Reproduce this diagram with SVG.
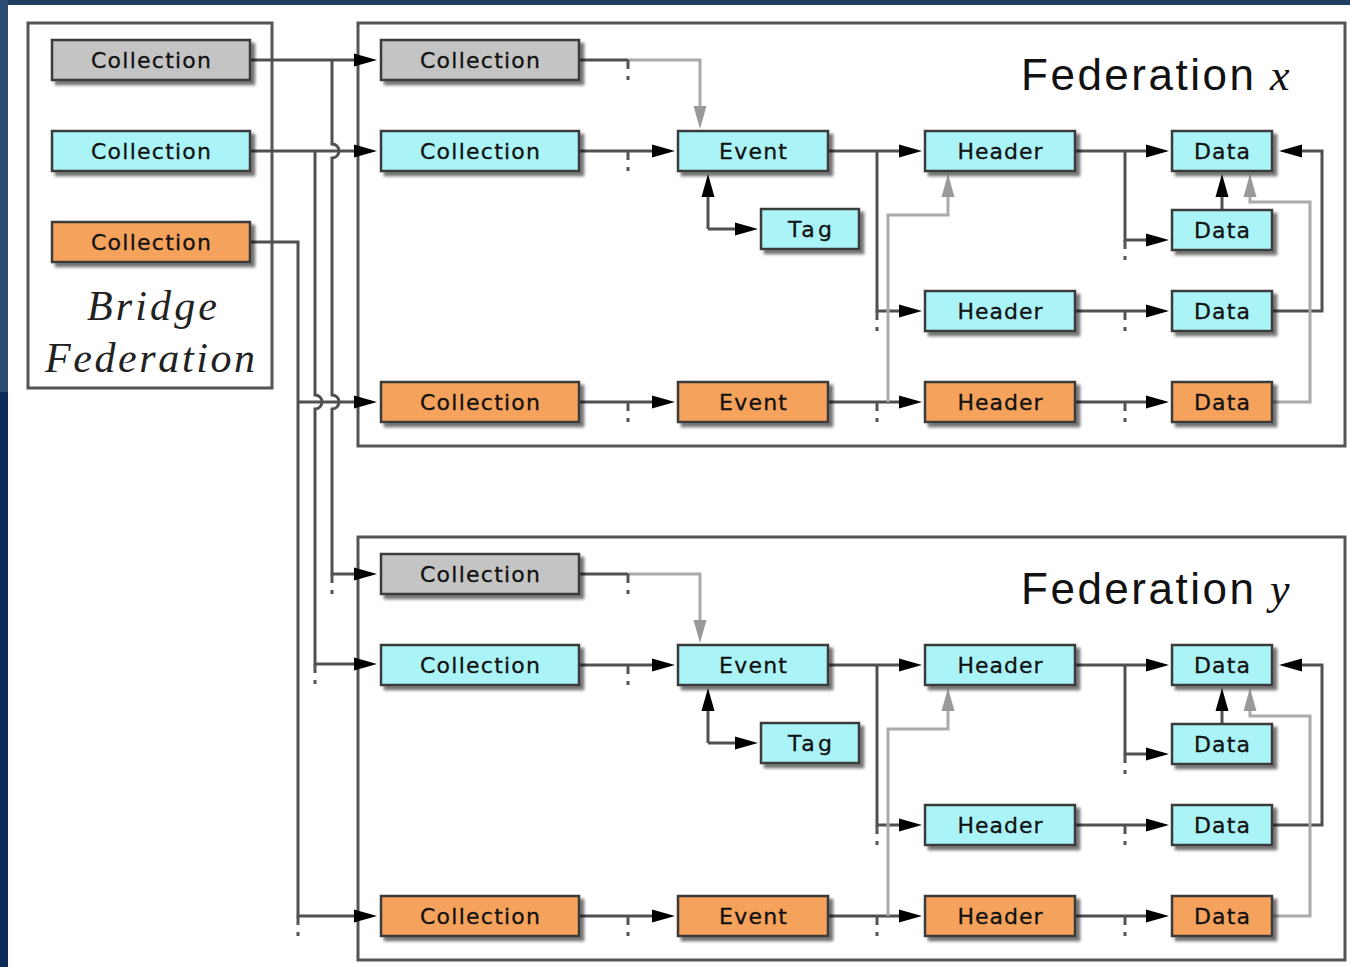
<svg xmlns="http://www.w3.org/2000/svg" width="1350" height="967" viewBox="0 0 1350 967">
<defs>
<filter id="sh" x="-10%" y="-30%" width="130%" height="180%">
<feDropShadow dx="4" dy="4" stdDeviation="1.4" flood-color="#000" flood-opacity="0.55"/>
</filter>
<marker id="ah" markerUnits="userSpaceOnUse" markerWidth="23" markerHeight="13" refX="12" refY="6.5" orient="auto" overflow="visible"><path d="M0,0 L23,6.5 L0,13 Z" fill="#000"/></marker>
<marker id="ahg" markerUnits="userSpaceOnUse" markerWidth="23" markerHeight="13" refX="12" refY="6.5" orient="auto" overflow="visible"><path d="M0,0 L23,6.5 L0,13 Z" fill="#999"/></marker>
</defs>
<style>
.n rect{stroke:#3a3a3a;stroke-width:2.5;filter:url(#sh)}
.c rect{fill:#aaf4f7}
.o rect{fill:#f5a25c}
.g rect{fill:#c4c4c4}
.n text{font-family:"DejaVu Sans",sans-serif;font-size:22px;fill:#111;stroke:#111;stroke-width:0.3;text-anchor:middle}
.box{fill:#fff;stroke:#555;stroke-width:3}
.l{fill:none;stroke:#505050;stroke-width:3}
.l.a{marker-end:url(#ah)}
.lg{fill:none;stroke:#aaa;stroke-width:3;marker-end:url(#ahg)}
.tk{fill:none;stroke:#555;stroke-width:3;stroke-dasharray:9 7 4 100}
.ttl{font-family:"Liberation Sans",Arial,sans-serif;font-size:44px;fill:#111}
.var{font-family:"Liberation Serif","Times New Roman",serif;font-style:italic;font-size:44px;fill:#111}
.br{font-family:"Liberation Serif","Times New Roman",serif;font-style:italic;font-size:42px;fill:#222;text-anchor:middle}
</style>
<rect x="0" y="0" width="1350" height="967" fill="#fff"/>
<rect x="0" y="0" width="1350" height="5" fill="#1f3e64"/>
<rect x="0" y="0" width="8" height="392" fill="#2b4b71"/>
<rect x="0" y="392" width="8" height="575" fill="#0a2c57"/>

<g id="federation-x">
<rect class="box" x="358" y="23" width="987" height="423"/>
<text class="ttl" x="1021" y="90" textLength="233" lengthAdjust="spacing">Federation</text>
<text class="var" x="1270" y="90">x</text>
</g>
<g id="federation-y">
<rect class="box" x="358" y="537" width="987" height="423"/>
<text class="ttl" x="1021" y="604" textLength="233" lengthAdjust="spacing">Federation</text>
<text class="var" x="1270" y="604">y</text>
</g>
<g id="bridge-federation">
<rect class="box" x="28" y="23" width="244" height="365"/>
<text class="br" x="152" y="320" textLength="130" lengthAdjust="spacing">Bridge</text>
<text class="br" x="150" y="372" textLength="210" lengthAdjust="spacing">Federation</text>
</g>

<g id="connectors">
<g id="left-channel">
<path class="l a" d="M250,60 H366"/>
<path class="l a" d="M332,60 V144 A7,7 0 0 1 332,158 V395 A7,7 0 0 1 332,409 V574 H366"/>
<path class="l a" d="M250,151 H366"/>
<path class="l a" d="M315,151 V395 A7,7 0 0 1 315,409 V664 H366"/>
<path class="l a" d="M250,242 H298 V916 H366"/>
<path class="l a" d="M298,402 H366"/>
<path class="tk" d="M332,574 v20"/>
<path class="tk" d="M315,664 v20"/>
<path class="tk" d="M298,916 v20"/>
</g>
<g id="conn-x">
<path class="l" d="M579,60 H628"/>
<path class="lg" d="M628,60 H700 V118"/>
<path class="l a" d="M579,151 H664"/>
<path class="l a" d="M708,229 V185"/>
<path class="l a" d="M708,229 H747"/>
<path class="l a" d="M828,151 H911"/>
<path class="l a" d="M877,151 V311 H911"/>
<path class="l a" d="M1075,151 H1158"/>
<path class="l a" d="M1125,151 V240 H1158"/>
<path class="l a" d="M1222,210 V185"/>
<path class="l a" d="M1075,311 H1158"/>
<path class="l a" d="M1272,311 H1322 V151 H1290"/>
<path class="l a" d="M579,402 H664"/>
<path class="l a" d="M828,402 H911"/>
<path class="l a" d="M1075,402 H1158"/>
<path class="lg" d="M1272,402 H1310 V202 H1250 V185"/>
<path class="lg" d="M888,402 V215 H948 V185"/>
<path class="tk" d="M628,60 v20"/>
<path class="tk" d="M628,151 v20"/>
<path class="tk" d="M628,402 v20"/>
<path class="tk" d="M877,311 v20"/>
<path class="tk" d="M877,402 v20"/>
<path class="tk" d="M1125,240 v20"/>
<path class="tk" d="M1125,311 v20"/>
<path class="tk" d="M1125,402 v20"/>
</g>
<g id="conn-y" transform="translate(0,514)">
<path class="l" d="M579,60 H628"/>
<path class="lg" d="M628,60 H700 V118"/>
<path class="l a" d="M579,151 H664"/>
<path class="l a" d="M708,229 V185"/>
<path class="l a" d="M708,229 H747"/>
<path class="l a" d="M828,151 H911"/>
<path class="l a" d="M877,151 V311 H911"/>
<path class="l a" d="M1075,151 H1158"/>
<path class="l a" d="M1125,151 V240 H1158"/>
<path class="l a" d="M1222,210 V185"/>
<path class="l a" d="M1075,311 H1158"/>
<path class="l a" d="M1272,311 H1322 V151 H1290"/>
<path class="l a" d="M579,402 H664"/>
<path class="l a" d="M828,402 H911"/>
<path class="l a" d="M1075,402 H1158"/>
<path class="lg" d="M1272,402 H1310 V202 H1250 V185"/>
<path class="lg" d="M888,402 V215 H948 V185"/>
<path class="tk" d="M628,60 v20"/>
<path class="tk" d="M628,151 v20"/>
<path class="tk" d="M628,402 v20"/>
<path class="tk" d="M877,311 v20"/>
<path class="tk" d="M877,402 v20"/>
<path class="tk" d="M1125,240 v20"/>
<path class="tk" d="M1125,311 v20"/>
<path class="tk" d="M1125,402 v20"/>
</g>
</g>

<g id="bridge-nodes">
<g id="b-coll-gray" class="n g"><rect x="52" y="40" width="198" height="40"/><text x="151" y="68" textLength="120" lengthAdjust="spacing">Collection</text></g>
<g id="b-coll-cyan" class="n c"><rect x="52" y="131" width="198" height="40"/><text x="151" y="159" textLength="120" lengthAdjust="spacing">Collection</text></g>
<g id="b-coll-orange" class="n o"><rect x="52" y="222" width="198" height="40"/><text x="151" y="250" textLength="120" lengthAdjust="spacing">Collection</text></g>
</g>

<g id="fx-nodes">
<g id="fx-coll-gray" class="n g"><rect x="381" y="40" width="198" height="40"/><text x="480" y="68" textLength="120" lengthAdjust="spacing">Collection</text></g>
<g id="fx-coll-cyan" class="n c"><rect x="381" y="131" width="198" height="40"/><text x="480" y="159" textLength="120" lengthAdjust="spacing">Collection</text></g>
<g id="fx-coll-orange" class="n o"><rect x="381" y="382" width="198" height="40"/><text x="480" y="410" textLength="120" lengthAdjust="spacing">Collection</text></g>
<g id="fx-event-cyan" class="n c"><rect x="678" y="131" width="150" height="40"/><text x="753" y="159" textLength="68" lengthAdjust="spacing">Event</text></g>
<g id="fx-tag" class="n c"><rect x="761" y="209" width="98" height="40"/><text x="810" y="237" textLength="44" lengthAdjust="spacing">Tag</text></g>
<g id="fx-event-orange" class="n o"><rect x="678" y="382" width="150" height="40"/><text x="753" y="410" textLength="68" lengthAdjust="spacing">Event</text></g>
<g id="fx-header-1" class="n c"><rect x="925" y="131" width="150" height="40"/><text x="1000" y="159" textLength="85" lengthAdjust="spacing">Header</text></g>
<g id="fx-header-2" class="n c"><rect x="925" y="291" width="150" height="40"/><text x="1000" y="319" textLength="85" lengthAdjust="spacing">Header</text></g>
<g id="fx-header-orange" class="n o"><rect x="925" y="382" width="150" height="40"/><text x="1000" y="410" textLength="85" lengthAdjust="spacing">Header</text></g>
<g id="fx-data-1" class="n c"><rect x="1172" y="131" width="100" height="40"/><text x="1222" y="159" textLength="56" lengthAdjust="spacing">Data</text></g>
<g id="fx-data-2" class="n c"><rect x="1172" y="210" width="100" height="40"/><text x="1222" y="238" textLength="56" lengthAdjust="spacing">Data</text></g>
<g id="fx-data-3" class="n c"><rect x="1172" y="291" width="100" height="40"/><text x="1222" y="319" textLength="56" lengthAdjust="spacing">Data</text></g>
<g id="fx-data-orange" class="n o"><rect x="1172" y="382" width="100" height="40"/><text x="1222" y="410" textLength="56" lengthAdjust="spacing">Data</text></g>
</g>

<g id="fy-nodes" transform="translate(0,514)">
<g id="fy-coll-gray" class="n g"><rect x="381" y="40" width="198" height="40"/><text x="480" y="68" textLength="120" lengthAdjust="spacing">Collection</text></g>
<g id="fy-coll-cyan" class="n c"><rect x="381" y="131" width="198" height="40"/><text x="480" y="159" textLength="120" lengthAdjust="spacing">Collection</text></g>
<g id="fy-coll-orange" class="n o"><rect x="381" y="382" width="198" height="40"/><text x="480" y="410" textLength="120" lengthAdjust="spacing">Collection</text></g>
<g id="fy-event-cyan" class="n c"><rect x="678" y="131" width="150" height="40"/><text x="753" y="159" textLength="68" lengthAdjust="spacing">Event</text></g>
<g id="fy-tag" class="n c"><rect x="761" y="209" width="98" height="40"/><text x="810" y="237" textLength="44" lengthAdjust="spacing">Tag</text></g>
<g id="fy-event-orange" class="n o"><rect x="678" y="382" width="150" height="40"/><text x="753" y="410" textLength="68" lengthAdjust="spacing">Event</text></g>
<g id="fy-header-1" class="n c"><rect x="925" y="131" width="150" height="40"/><text x="1000" y="159" textLength="85" lengthAdjust="spacing">Header</text></g>
<g id="fy-header-2" class="n c"><rect x="925" y="291" width="150" height="40"/><text x="1000" y="319" textLength="85" lengthAdjust="spacing">Header</text></g>
<g id="fy-header-orange" class="n o"><rect x="925" y="382" width="150" height="40"/><text x="1000" y="410" textLength="85" lengthAdjust="spacing">Header</text></g>
<g id="fy-data-1" class="n c"><rect x="1172" y="131" width="100" height="40"/><text x="1222" y="159" textLength="56" lengthAdjust="spacing">Data</text></g>
<g id="fy-data-2" class="n c"><rect x="1172" y="210" width="100" height="40"/><text x="1222" y="238" textLength="56" lengthAdjust="spacing">Data</text></g>
<g id="fy-data-3" class="n c"><rect x="1172" y="291" width="100" height="40"/><text x="1222" y="319" textLength="56" lengthAdjust="spacing">Data</text></g>
<g id="fy-data-orange" class="n o"><rect x="1172" y="382" width="100" height="40"/><text x="1222" y="410" textLength="56" lengthAdjust="spacing">Data</text></g>
</g>
</svg>
